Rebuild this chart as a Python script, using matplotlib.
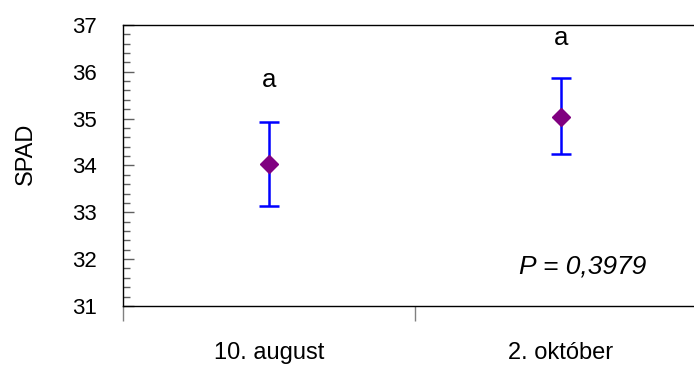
import matplotlib
matplotlib.use("Agg")
import matplotlib.pyplot as plt
from matplotlib.ticker import MultipleLocator, FixedLocator

plt.rcParams['font.family'] = ['Liberation Sans', 'DejaVu Sans']

dates = ["10. august", "2. október"]
spad_mean = [34.04, 35.03]
spad_low = [33.13, 34.24]
spad_high = [34.93, 35.87]
letters = ["a", "a"]
letter_y = [35.82, 36.72]
p_text = "P = 0,3979"

x = list(range(len(dates)))
err_lo = [m - l for m, l in zip(spad_mean, spad_low)]
err_hi = [h - m for m, h in zip(spad_mean, spad_high)]

fig = plt.figure(figsize=(6.94, 3.69), dpi=100)
ax = fig.add_axes([0.177, 0.171, 0.8415, 0.7615])

ax.errorbar(x, spad_mean, yerr=[err_lo, err_hi], fmt='none', ecolor='#0000FF',
            elinewidth=1.8, capsize=7, capthick=1.8, zorder=2)
ax.plot(x, spad_mean, linestyle='none', marker='D', color='#800080',
        markersize=9, zorder=3)

for xi, yi, t in zip(x, letter_y, letters):
    ax.text(xi, yi, t, ha='center', va='center', fontsize=18.5)

ax.text(1.075, 31.85, p_text, ha='center', va='center', fontsize=19, style='italic')

ax.set_xlim(-0.5, 1.5)
ax.set_ylim(31, 37)
ax.yaxis.set_major_locator(MultipleLocator(1))
ax.yaxis.set_minor_locator(MultipleLocator(0.2))
ax.tick_params(axis='y', which='major', direction='in', length=8, width=1,
               color='#606060', labelsize=16, pad=18.5)
ax.tick_params(axis='y', which='minor', direction='in', length=5, width=1,
               color='#606060')

ax.set_xticks(x)
ax.set_xticklabels(dates)
ax.xaxis.set_minor_locator(FixedLocator([-0.5, 0.5, 1.5]))
ax.tick_params(axis='x', which='major', length=0, labelsize=17, pad=26)
ax.tick_params(axis='x', which='minor', direction='out', length=11, width=1,
               color='#808080')

ax.spines['right'].set_visible(False)
for s in ['left', 'top', 'bottom']:
    ax.spines[s].set_linewidth(1.0)
    ax.spines[s].set_color('black')

ax.set_ylabel("SPAD", fontsize=17)
ax.yaxis.set_label_coords(-0.148, 0.54)

fig.savefig("out.png", dpi=100)
